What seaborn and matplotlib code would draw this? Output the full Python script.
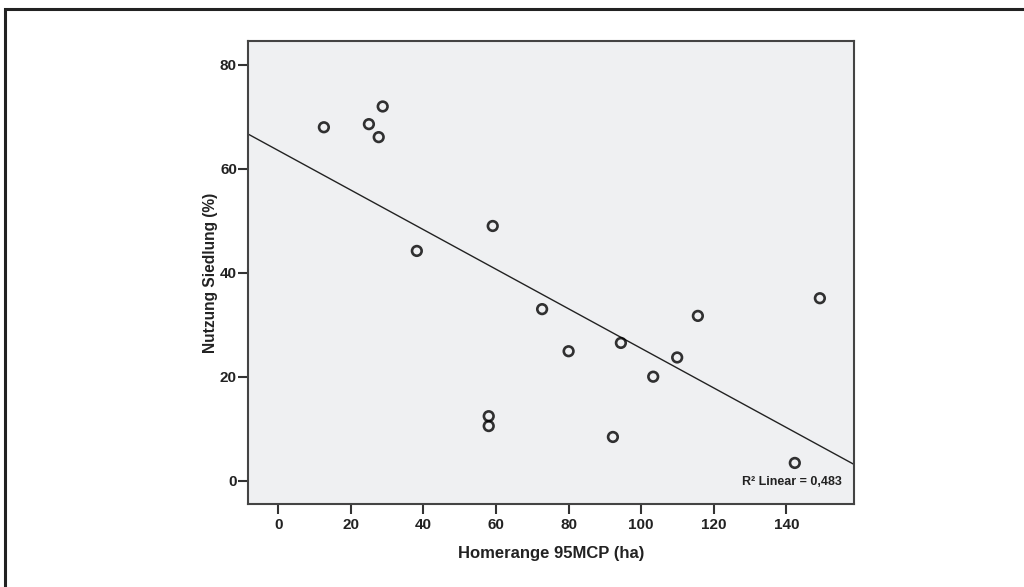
import matplotlib
matplotlib.use("Agg")
import matplotlib.pyplot as plt
import seaborn as sns
import numpy as np
import pandas as pd
from matplotlib.patches import Rectangle

homerange = [12.6, 25.0, 27.7, 28.8, 38.2, 59.1, 58.0, 58.0, 72.7, 80.0, 94.4, 92.2, 103.3, 109.9, 115.6, 149.2, 142.3]
nutzung = [68.0, 68.6, 66.1, 72.0, 44.2, 49.0, 12.4, 10.5, 33.0, 24.9, 26.5, 8.4, 20.0, 23.7, 31.7, 35.1, 3.4]
x_ticks = [0, 20, 40, 60, 80, 100, 120, 140]
y_ticks = [0, 20, 40, 60, 80]
x_label = "Homerange 95MCP (ha)"
y_label = "Nutzung Siedlung (%)"
r2_label = "R² Linear = 0,483"

df = pd.DataFrame({"x": homerange, "y": nutzung})

sns.set_style("white")
plt.rcParams['font.family'] = ['Liberation Sans', 'DejaVu Sans']

fig = plt.figure(figsize=(10.24, 5.87), dpi=100)
ax = fig.add_axes([248/1024, 1-504/587, (854-248)/1024, (504-41)/587])
ax.set_facecolor("#eff0f2")

ax.set_xlim(-8.3, 158.6)
ax.set_ylim(-4.5, 84.6)

sns.regplot(data=df, x="x", y="y", ax=ax, ci=None, truncate=False,
            scatter_kws=dict(s=48, facecolors="none", edgecolors="black", linewidths=1.9, zorder=3),
            line_kws=dict(color="#222222", linewidth=1.0, zorder=2))
ax.set_xlim(-8.3, 158.6)
ax.set_ylim(-4.5, 84.6)

ax.set_xticks(x_ticks)
ax.set_yticks(y_ticks)
ax.tick_params(axis="both", direction="out", length=7, width=1.5, color="#333333",
               labelsize=11, labelcolor="#222222", bottom=True, left=True)
ax.tick_params(axis="y", pad=1)
ax.tick_params(axis="x", pad=3)
for lab in ax.get_xticklabels() + ax.get_yticklabels():
    lab.set_fontweight("bold")
for s in ax.spines.values():
    s.set_color("#444444")
    s.set_linewidth(1.5)

ax.set_xlabel(x_label, fontsize=12, fontweight="bold", color="#222222", labelpad=10)
ax.set_ylabel(y_label, fontsize=11.2, fontweight="bold", color="#222222", labelpad=1)

ax.text(0.98, 0.035, r2_label, transform=ax.transAxes, ha="right", va="bottom",
        fontsize=9, fontweight="bold", color="#222222")

fig.patches.append(Rectangle((5/1024, -0.1), 1.2, 1 - 9/587 + 0.1, transform=fig.transFigure,
                             fill=False, edgecolor="#222222", linewidth=2.2))

fig.savefig("out.png", dpi=100)
